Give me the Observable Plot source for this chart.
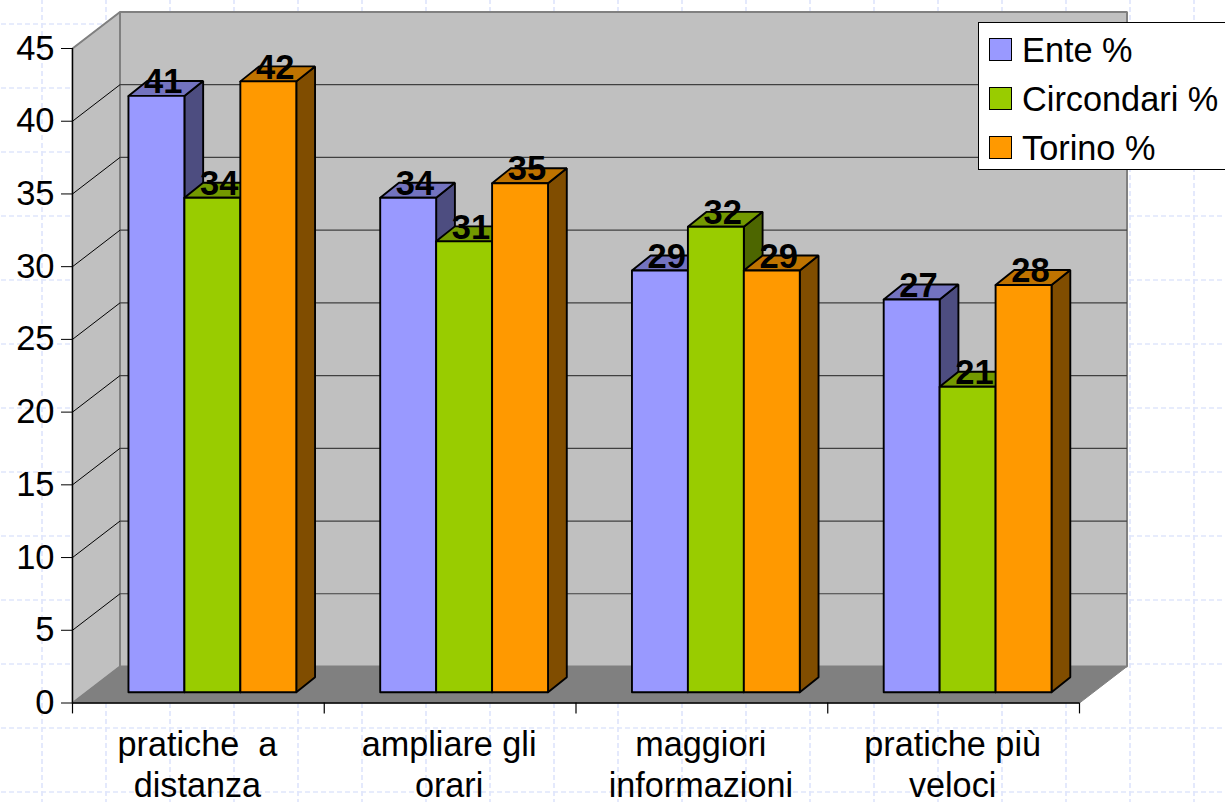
<!DOCTYPE html>
<html lang="it">
<head>
<meta charset="utf-8">
<title>Ente, Circondari, Torino</title>
<script src="https://cdn.jsdelivr.net/npm/d3@7"></script>
<script src="https://cdn.jsdelivr.net/npm/@observablehq/plot@0.6"></script>
<style>
  html, body { margin: 0; padding: 0; width: 1225px; height: 802px; overflow: hidden; background-color: #fff; }
  /* Slide grid showing behind the chart */
  body {
    background-image: url("data:image/svg+xml,%3Csvg xmlns='http://www.w3.org/2000/svg' width='64' height='64'%3E%3Cpath d='M1 0V64M0 1H64' stroke='%23e0e6fc' stroke-width='1.7' stroke-dasharray='5 3' fill='none'/%3E%3C/svg%3E");
    background-position: 41px 23px;
    position: relative;
    font-family: "Liberation Sans", Arial, sans-serif;
  }
  #chart svg { display: block; overflow: visible; background: transparent; }
  #chart text { white-space: pre; }
  #legend {
    position: absolute; left: 978px; top: 22px; width: 260px; height: 146px;
    background: #fff; border: 1.5px solid #000; box-sizing: content-box;
  }
  #legend div.row { position: absolute; left: 0; height: 40px; width: 100%; }
  #legend i { position: absolute; left: 10px; top: 8px; width: 21px; height: 21px; border: 1.5px solid #000; }
  #legend span { position: absolute; left: 43px; top: 1px; font-size: 34.3px; line-height: 38px; color: #000; white-space: pre; }
</style>
</head>
<body>
<div id="chart"></div>
<div id="legend"></div>
<script>
const categories = ["pratiche  a\ndistanza", "ampliare gli\norari", "maggiori\ninformazioni", "pratiche più\nveloci"];
const seriesNames = ["Ente %", "Circondari %", "Torino %"];
const ente = [41, 34, 29, 27];
const circondari = [34, 31, 32, 21];
const torino = [42, 35, 29, 28];
const frontColors = ["#9999ff", "#99cc00", "#ff9900"];
const topColors = ["#7373bf", "#739900", "#bf7300"];
const sideColors = ["#4d4d80", "#4d6600", "#804d00"];
const yTicks = [0, 5, 10, 15, 20, 25, 30, 35, 40, 45];

// Box depth, in units of the x (category) and y (value) scales
const wallX = 0.1887, wallY = 2.51;
const barDepthX = 0.0745, barDepthY = 1.03;
const barShiftX = 0.0556, barShiftY = 0.74;
const gap = 1 / 6, barW = 2 / 9;

// A filled, closed face of the box
const face = (pts, fill, stroke, strokeWidth = 1.9) =>
  Plot.line([...pts, pts[0]], {x: "0", y: "1", fill, stroke, strokeWidth, strokeLinejoin: "miter"});

const marks = [];

// Back wall, left wall, floor
marks.push(face([[wallX, wallY], [4 + wallX, wallY], [4 + wallX, 45 + wallY], [wallX, 45 + wallY]], "#c0c0c0", "#808080", 2));
marks.push(face([[0, 0], [wallX, wallY], [wallX, 45 + wallY], [0, 45]], "#c0c0c0", "#808080", 2));
marks.push(face([[0, 0], [4, 0], [4 + wallX, wallY], [wallX, wallY]], "#808080", "#808080", 1));

// Gridlines across the back wall and down the left wall
const inner = yTicks.slice(1, -1);
marks.push(Plot.link(inner, {x1: wallX, x2: 4 + wallX, y1: d => d + wallY, y2: d => d + wallY, stroke: "#404040", strokeWidth: 1.2}));
marks.push(Plot.link(yTicks.slice(1), {x1: 0, x2: wallX, y1: d => d, y2: d => d + wallY, stroke: d => d === 45 ? "#808080" : "#000", strokeWidth: 1}));

// Bars, painted left to right so that each front covers its neighbour's side
const labels = [];
categories.forEach((_, c) => {
  [ente, circondari, torino].forEach((values, s) => {
    const v = values[c];
    const x0 = c + gap + barShiftX + s * barW, x1 = x0 + barW;
    const y0 = barShiftY, y1 = v + barShiftY;
    const dx = barDepthX, dy = barDepthY;
    marks.push(face([[x1, y0], [x1 + dx, y0 + dy], [x1 + dx, y1 + dy], [x1, y1]], sideColors[s], "#000"));
    marks.push(face([[x0, y1], [x1, y1], [x1 + dx, y1 + dy], [x0 + dx, y1 + dy]], topColors[s], "#000"));
    marks.push(face([[x0, y0], [x1, y0], [x1, y1], [x0, y1]], frontColors[s], "#000"));
    labels.push({x: (x0 + x1 + dx) / 2 - 0.01, y: y1 + dy * 0.92, v});
  });
});

// Front edge and axes
marks.push(Plot.ruleY([0], {x1: 0, x2: 4, stroke: "#000", strokeWidth: 1.4}));
marks.push(Plot.ruleX([0], {y1: 0, y2: 45, stroke: "#000", strokeWidth: 1.2}));
marks.push(Plot.ruleX([0, 1, 2, 3, 4], {y1: 0, y2: -0.75, stroke: "#000", strokeWidth: 1.2}));
marks.push(Plot.axisY(yTicks, {anchor: "left", tickSize: 11, tickPadding: 7, fontSize: 34.5, label: null, tickFormat: d => d, stroke: "#000", fill: "#000"}));
marks.push(Plot.text(categories, {
  x: (d, i) => i + 0.5 - 0.004, y: 0, dy: 23, text: d => d, lineAnchor: "top", lineHeight: 1.217,
  fontSize: 34.2, fill: "#000"
}));

// Value labels above the bars
marks.push(Plot.text(labels, {x: "x", y: "y", text: "v", fontSize: 34.5, fontWeight: "bold", fill: "#000", lineAnchor: "middle"}));

document.getElementById("chart").append(Plot.plot({
  width: 1225, height: 802,
  marginLeft: 72, marginRight: 146, marginTop: 48, marginBottom: 99.5,
  x: {domain: [0, 4], axis: null},
  y: {domain: [0, 45], axis: null},
  style: {fontFamily: "Liberation Sans, Arial, sans-serif", background: "transparent", color: "#000"},
  marks
}));

// Legend box overlapping the corner of the chart
const legend = document.getElementById("legend");
const rowTops = [15, 64, 113];
seriesNames.forEach((name, i) => {
  const row = document.createElement("div");
  row.className = "row";
  row.style.top = rowTops[i] - 8 + "px";
  const swatch = document.createElement("i");
  swatch.style.background = frontColors[i];
  const text = document.createElement("span");
  text.textContent = name;
  row.append(swatch, text);
  legend.append(row);
});
</script>
</body>
</html>
